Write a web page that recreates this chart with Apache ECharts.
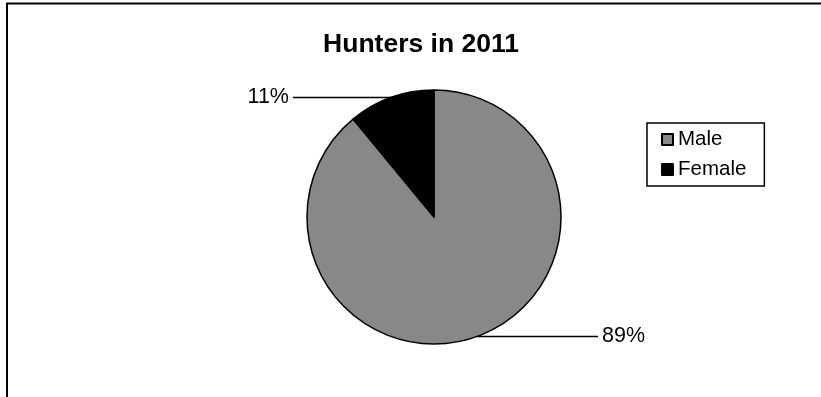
<!DOCTYPE html>
<html>
<head>
<meta charset="utf-8">
<script src="https://cdn.jsdelivr.net/npm/echarts@6/dist/echarts.min.js"></script>
<style>
html,body{margin:0;padding:0;background:#fff;}
#chart{width:821px;height:397px;}
</style>
</head>
<body>
<div id="chart"></div>
<script>
const categories = ['Male', 'Female'];
const values = [89, 11];
const colors = ['#888888', '#000000'];
const titleText = 'Hunters in 2011';

const chart = echarts.init(document.getElementById('chart'), null, {renderer: 'canvas'});
const font = 'Arial, "Liberation Sans", sans-serif';

const option = {
  animation: false,
  backgroundColor: '#ffffff',
  title: {
    text: titleText,
    left: 416, top: 26, textAlign: 'center',
    textStyle: {fontFamily: font, fontWeight: 'bold', fontSize: 26.5, color: '#000'}
  },
  graphic: [{
    type: 'rect',
    shape: {x: 7, y: 3.5, width: 900, height: 500},
    style: {fill: 'none', stroke: '#000', lineWidth: 2},
    silent: true
  }],
  legend: {
    orient: 'vertical',
    left: 647, top: 123,
    data: categories,
    icon: 'rect',
    itemWidth: 11, itemHeight: 11,
    itemGap: 9,
    padding: [6, 18, 6, 14],
    borderColor: '#000', borderWidth: 1.5,
    textStyle: {fontFamily: font, fontSize: 20.5, color: '#000'}
  },
  series: [{
    type: 'pie',
    center: [434, 217],
    radius: 127,
    startAngle: 90,
    clockwise: true,
    percentPrecision: 0,
    itemStyle: {borderColor: '#000', borderWidth: 1.5},
    label: {
      show: true,
      position: 'outside',
      formatter: '{d}%',
      fontFamily: font, fontSize: 21.5, color: '#000',
      distanceToLabelLine: 4
    },
    labelLine: {show: true, length: 0, length2: 100, smooth: false,
      lineStyle: {color: '#000', width: 1.5}},
    emphasis: {disabled: true},
    data: categories.map((c, i) => ({
      name: c, value: values[i],
      itemStyle: {color: colors[i]},
      labelLine: {length2: i === 0 ? 121 : 98}
    }))
  }]
};
chart.setOption(option);
</script>
</body>
</html>
